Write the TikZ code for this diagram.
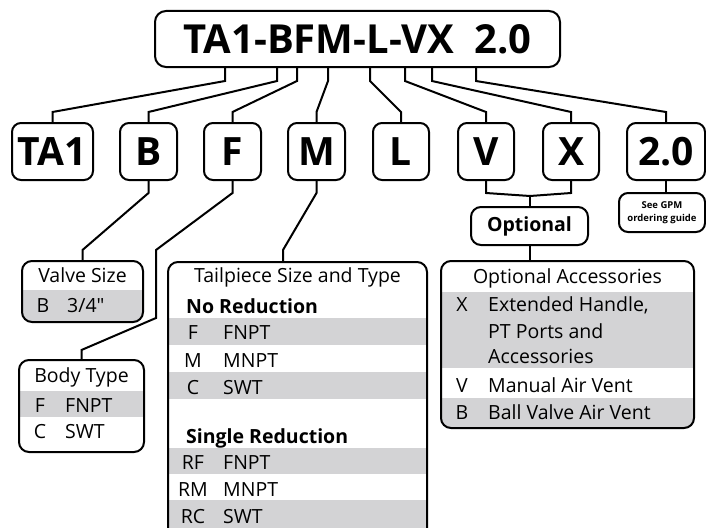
\documentclass[tikz,border=0pt]{standalone}
\usepackage{fontspec}
\setmainfont{Open Sans}[Ligatures=TeXOff]
\definecolor{rowgray}{RGB}{211,211,213}
\begin{document}
\begin{tikzpicture}[x=1pt,y=-1pt,
  conn/.style={line width=2pt},
  keybox/.style={draw, line width=2pt, rounded corners=9pt, minimum height=57pt, inner sep=0pt,
     font=\fontsize{39}{44}\selectfont\bfseries},
  framebox/.style={draw, line width=2pt, rounded corners=10pt, inner sep=0pt},
  bodytxt/.style={inner sep=0pt, font=\fontsize{19.5}{23}\selectfont},
  lbl/.style={bodytxt, anchor=base west},
  codetxt/.style={bodytxt, anchor=base},
  boldlbl/.style={inner sep=0pt, anchor=base west, font=\fontsize{19.5}{23}\selectfont\bfseries}]
\clip (0,0) rectangle (706,527);
\fill[white] (0,0) rectangle (706,527);

% ---------- title ----------
\node[draw, line width=2pt, rounded corners=11pt, minimum width=405pt, minimum height=56pt, inner sep=0pt,
      font=\fontsize{40}{48}\selectfont\bfseries] (title) at (357.5,39) {TA1-BFM-L-VX\hspace{0.5em}2.0};

% ---------- key boxes ----------
\node[keybox, minimum width=81pt] (TA1) at (52.5,151.5) {TA1};
\node[keybox, minimum width=57pt] (B) at (148.5,151.5) {B};
\node[keybox, minimum width=57pt] (F) at (232.5,151.5) {F};
\node[keybox, minimum width=57pt] (M) at (316.5,151.5) {M};
\node[keybox, minimum width=56pt] (L) at (401,151.5) {L};
\node[keybox, minimum width=56pt] (V) at (486,151.5) {V};
\node[keybox, minimum width=56pt] (X) at (571,151.5) {X};
\node[keybox, minimum width=78pt] (two) at (666,151.5) {2.0};

% ---------- title connectors ----------
\draw[conn] (title.south -| 225,0) -- ++(0,13) -- (TA1.north |- 0,112) -- (TA1.north);
\draw[conn] (title.south -| 277,0) -- ++(0,13) -- (B.north |- 0,112) -- (B.north);
\draw[conn] (title.south -| 297,0) -- ++(0,13) -- (F.north |- 0,112) -- (F.north);
\draw[conn] (title.south -| 328,0) -- ++(0,13) -- (M.north |- 0,112) -- (M.north);
\draw[conn] (title.south -| 370,0) -- ++(0,13) -- (L.north |- 0,112) -- (L.north);
\draw[conn] (title.south -| 405,0) -- ++(0,13) -- (V.north |- 0,112) -- (V.north);
\draw[conn] (title.south -| 432,0) -- ++(0,13) -- (X.north |- 0,112) -- (X.north);
\draw[conn] (title.south -| 476,0) -- ++(0,13) -- (two.north |- 0,112) -- (two.north);

% ---------- gray rows ----------
\begin{scope}
  \clip[rounded corners=10pt] (22,261) rectangle (143,322);
  \fill[rowgray] (22,290) rectangle (143,322);
\end{scope}
\begin{scope}
  \clip[rounded corners=10pt] (19,360) rectangle (144,452);
  \fill[rowgray] (19,391) rectangle (144,417);
\end{scope}
\begin{scope}
  \clip[rounded corners=10pt] (168,262) rectangle (427,540);
  \fill[rowgray] (168,318) rectangle (427,345);
  \fill[rowgray] (168,372) rectangle (427,399);
  \fill[rowgray] (168,448) rectangle (427,474);
  \fill[rowgray] (168,500) rectangle (427,540);
\end{scope}
\begin{scope}
  \clip[rounded corners=10pt] (441,261) rectangle (694,428);
  \fill[rowgray] (441,292) rectangle (694,368);
  \fill[rowgray] (441,398) rectangle (694,428);
\end{scope}

% ---------- list frames ----------
\node[framebox, minimum width=121pt, minimum height=61pt] (valve) at (82.5,291.5) {};
\node[framebox, minimum width=125pt, minimum height=92pt] (body) at (81.5,406) {};
\node[framebox, minimum width=259pt, minimum height=278pt] (tail) at (297.5,401) {};
\node[framebox, minimum width=253pt, minimum height=167pt] (optacc) at (567.5,344.5) {};

% ---------- optional / gpm ----------
\node[draw, line width=2pt, rounded corners=10pt, minimum width=117pt, minimum height=38pt, inner sep=0pt,
      font=\fontsize{19.5}{23}\selectfont\bfseries] (opt) at (529.5,226) {Optional};
\node[draw, line width=2pt, rounded corners=9pt, minimum width=86pt, minimum height=39pt, inner sep=0pt,
      align=center, font=\fontsize{9.5}{12.5}\selectfont\bfseries] (gpm) at (662,212.5) {See GPM\\ordering guide};

% ---------- lower connectors ----------
\coordinate (vx) at (530,196);
\draw[conn] (B.south) -- ++(0,12) -- (valve.north |- 0,250) -- (valve.north);
\draw[conn] (F.south) -- ++(0,12) -- (156,250) -- (156,318) -- (body.north |- 0,350) -- (body.north);
\draw[conn] (M.south) -- ++(0,12) -- (283,250) -- (tail.north -| 283,0);
\draw[conn] (V.south) -- ++(0,12) -- (vx);
\draw[conn] (X.south) -- ++(0,12) -- (vx);
\draw[conn] (vx) -- (opt.north -| vx);
\draw[conn] (opt.south) -- (optacc.north -| opt.south);
\draw[conn] (two.south) -- (gpm.north -| two.south);

% ---------- Valve Size ----------
\node[codetxt] (vtitle) at (82.5,282) {Valve Size};
\node[codetxt] (vc1) at (43,312) {B};
\node[lbl] (vd1) at (67,312) {3/4"};

% ---------- Body Type ----------
\node[codetxt] (btitle) at (81.5,382) {Body Type};
\node[codetxt] (bc1) at (40,412) {F};
\node[lbl] (bd1) at (65,412) {FNPT};
\node[codetxt] (bc2) at (40,438) {C};
\node[lbl] (bd2) at (65,438) {SWT};

% ---------- Tailpiece ----------
\node[codetxt] (ttitle) at (297.5,282) {Tailpiece Size and Type};
\node[boldlbl] (tnr) at (186,313) {No Reduction};
\node[codetxt] (tc1) at (193,339) {F};
\node[lbl] (td1) at (223,339) {FNPT};
\node[codetxt] (tc2) at (193,367) {M};
\node[lbl] (td2) at (223,367) {MNPT};
\node[codetxt] (tc3) at (193,394) {C};
\node[lbl] (td3) at (223,394) {SWT};
\node[boldlbl] (tsr) at (186,443) {Single Reduction};
\node[codetxt] (tc4) at (193,469) {RF};
\node[lbl] (td4) at (223,469) {FNPT};
\node[codetxt] (tc5) at (193,496) {RM};
\node[lbl] (td5) at (223,496) {MNPT};
\node[codetxt] (tc6) at (193,523) {RC};
\node[lbl] (td6) at (223,523) {SWT};

% ---------- Optional Accessories ----------
\node[codetxt] (otitle) at (567.5,283) {Optional Accessories};
\node[codetxt] (oc1) at (462,311) {X};
\node[lbl] (od1a) at (488,311) {Extended Handle,};
\node[lbl] (od1b) at (488,338) {PT Ports and};
\node[lbl] (od1c) at (488,363) {Accessories};
\node[codetxt] (oc2) at (462,392) {V};
\node[lbl] (od2) at (488,392) {Manual Air Vent};
\node[codetxt] (oc3) at (462,419) {B};
\node[lbl] (od3) at (488,419) {Ball Valve Air Vent};
\end{tikzpicture}
\end{document}
